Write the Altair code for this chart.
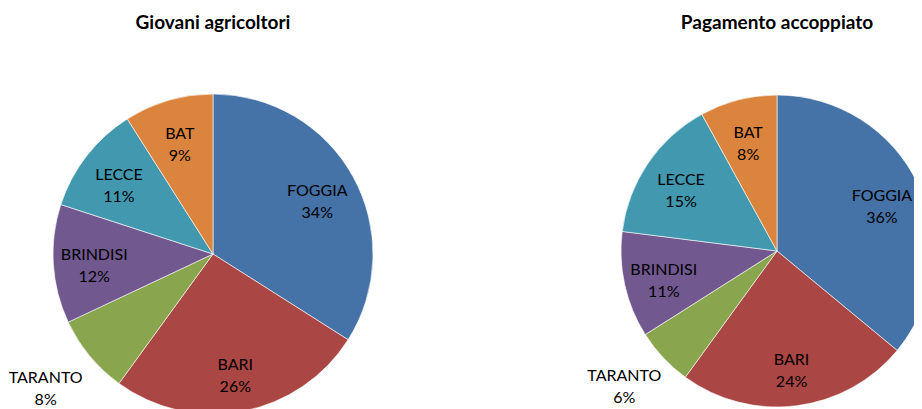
import altair as alt
import pandas as pd

provinces = ["FOGGIA", "BARI", "TARANTO", "BRINDISI", "LECCE", "BAT"]
giovani = [34, 26, 8, 12, 11, 9]
pagamento = [36, 24, 6, 11, 15, 8]
outside = [False, False, True, False, False, False]
colors = ["#4572A7", "#AA4643", "#89A54E", "#71588F", "#4198AF", "#DB843D"]

titles = ["Giovani agricoltori", "Pagamento accoppiato"]


def make_df(values):
    return pd.DataFrame({
        "provincia": provinces,
        "valore": values,
        "ordine": list(range(len(provinces))),
        "lab_in": [("" if o else f"{p}\n{v}%") for p, v, o in zip(provinces, values, outside)],
        "lab_out": [(f"{p}\n{v}%" if o else "") for p, v, o in zip(provinces, values, outside)],
    })


def pie(values, title, outer, r_in, r_out, out_dy, w, h, cx, cy, tdx):
    df = make_df(values)
    base = alt.Chart(df).encode(
        theta=alt.Theta("valore:Q", stack=True),
        order=alt.Order("ordine:Q"),
        x=alt.value(cx),
        y=alt.value(cy),
    )
    arcs = base.mark_arc(outerRadius=outer, stroke="#ffffff", strokeWidth=0.6, clip=True).encode(
        color=alt.Color("provincia:N", scale=alt.Scale(domain=provinces, range=colors), legend=None)
    )
    t_in = base.mark_text(radius=r_in, dy=-6, lineBreak="\n", font="Lato", fontSize=16,
                          lineHeight=22, color="#000000", clip=True).encode(text="lab_in:N")
    t_out = base.mark_text(radius=r_out, dy=out_dy, dx=-4, lineBreak="\n", font="Lato", fontSize=16,
                           lineHeight=22, color="#000000", clip=True).encode(text="lab_out:N")
    return alt.layer(arcs, t_in, t_out).properties(
        width=w, height=h,
        title=alt.TitleParams(title, font="Lato", fontSize=19, fontWeight="bold",
                              color="#000000", anchor="middle", offset=8, dx=tdx),
    )


p1 = pie(giovani, titles[0], 160, 119, 212, -11, 452, 380, 205, 213, -21)
p2 = pie(pagamento, titles[1], 156, 116, 204, -15, 454, 380, 317, 210, 90)

chart = alt.hconcat(p1, p2, spacing=0).configure_view(stroke=None).properties(
    padding={"top": 6, "left": 0, "right": 0, "bottom": 0}
)

chart.save("out.html", embed_options={"renderer": "svg", "actions": False})
